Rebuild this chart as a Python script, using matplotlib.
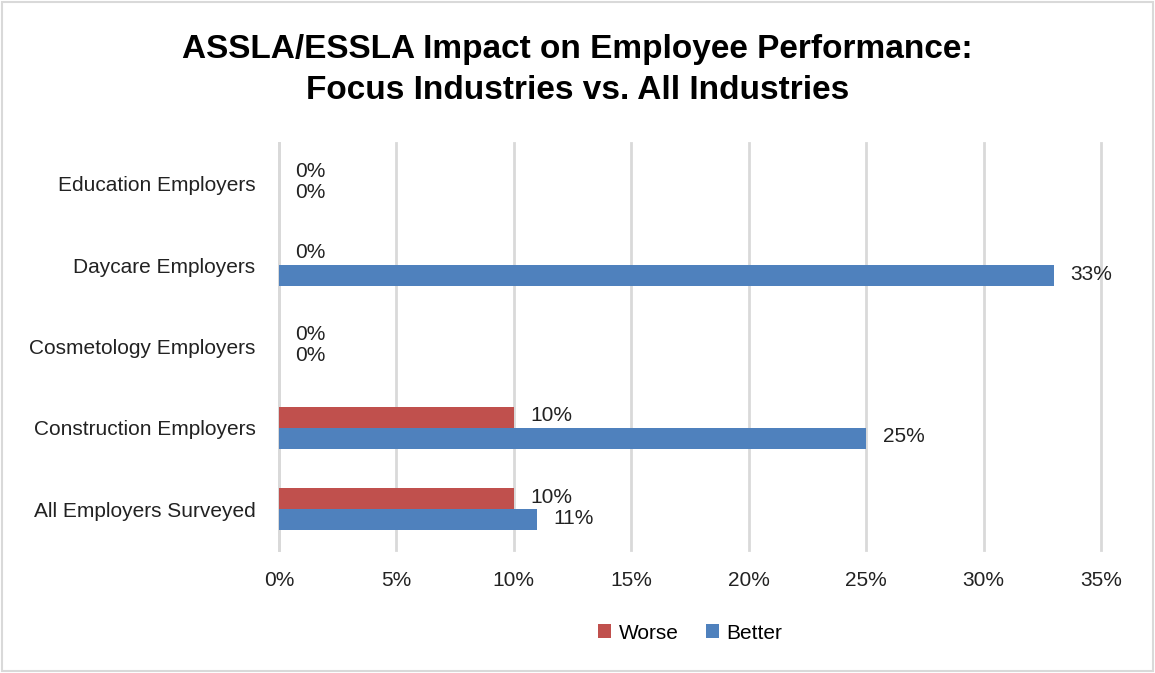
import matplotlib.pyplot as plt
import numpy as np
from matplotlib.patches import Rectangle

categories = ["All Employers Surveyed", "Construction Employers", "Cosmetology Employers",
              "Daycare Employers", "Education Employers"]
worse = [10, 10, 0, 0, 0]
better = [11, 25, 0, 33, 0]
xticks = [0, 5, 10, 15, 20, 25, 30, 35]

red = "#C0504D"
blue = "#4F81BD"
grid = "#D9D9D9"
font = "Liberation Sans"
fs = 15

plt.rcParams["font.family"] = [font, "DejaVu Sans"]

fig = plt.figure(figsize=(11.55, 6.73), dpi=100)
ax = fig.add_axes([279 / 1155, 123 / 673, 822 / 1155, 407 / 673])

y = np.arange(len(categories))
h = 0.26
ax.barh(y + h / 2, worse, height=h, color=red, label="Worse", zorder=3)
ax.barh(y - h / 2, better, height=h, color=blue, label="Better", zorder=3)

# value labels at the bar ends
for i in range(len(categories)):
    ax.text(worse[i] + 0.7, y[i] + h / 2 + 0.02, f"{worse[i]}%",
            va="center", ha="left", fontsize=fs, color="#222222")
    ax.text(better[i] + 0.7, y[i] - h / 2 + 0.02, f"{better[i]}%",
            va="center", ha="left", fontsize=fs, color="#222222")

ax.set_xlim(0, 35)
ax.set_ylim(-0.5, len(categories) - 0.5)
ax.set_xticks(xticks)
ax.set_xticklabels([f"{t}%" for t in xticks], fontsize=fs, color="#222222")
ax.set_yticks(y)
ax.set_yticklabels(categories, fontsize=fs, color="#222222")
ax.tick_params(length=0, pad=15, axis="x")
ax.tick_params(length=0, pad=17, axis="y")
ax.xaxis.grid(True, color=grid, linewidth=2, zorder=0)
for gl in ax.get_xgridlines():
    gl.set_clip_on(False)
for s in ["top", "right", "bottom"]:
    ax.spines[s].set_visible(False)
ax.spines["left"].set_color(grid)
ax.spines["left"].set_linewidth(2)

fig.suptitle("ASSLA/ESSLA Impact on Employee Performance:\nFocus Industries vs. All Industries",
             y=0.95, fontsize=24, fontweight="bold", linespacing=1.45)

ax.legend(loc="upper center", bbox_to_anchor=(0.5, -0.135), ncol=2, frameon=False,
          fontsize=fs, handlelength=0.65, handleheight=0.65, columnspacing=1.3,
          handletextpad=0.35)

fig.patches.append(Rectangle((0.002, 0.003), 0.996, 0.994, transform=fig.transFigure,
                             fill=False, edgecolor="#D9D9D9", linewidth=1.5))

fig.savefig("out.png", dpi=100)
